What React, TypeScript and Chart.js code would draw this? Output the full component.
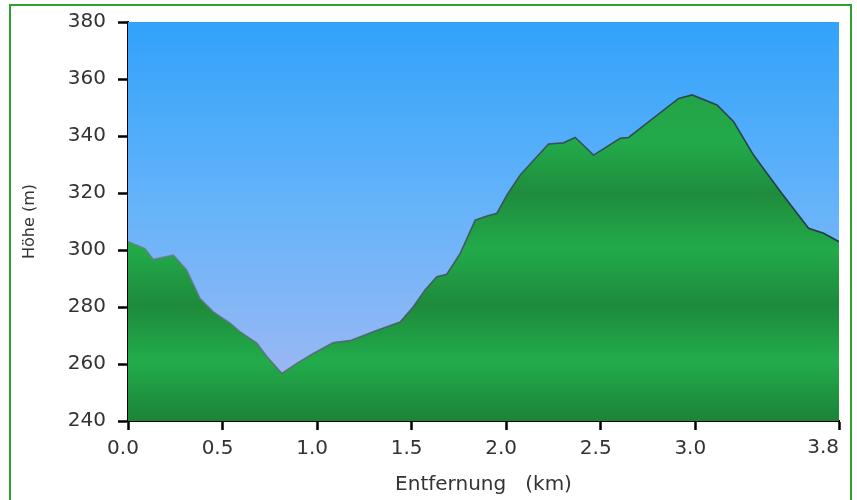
import React, { useEffect, useRef } from "react";
import { Chart, registerables } from "chart.js";

Chart.register(...registerables);

const distanceKm = [0, 0.09, 0.134, 0.24, 0.31, 0.381, 0.451, 0.54, 0.593, 0.681, 0.734, 0.813, 0.893, 0.98, 1.086, 1.175, 1.307, 1.439, 1.503, 1.571, 1.633, 1.686, 1.757, 1.836, 1.898, 1.951, 2.004, 2.074, 2.162, 2.224, 2.303, 2.365, 2.462, 2.603, 2.647, 2.744, 2.912, 2.983, 3.115, 3.203, 3.308, 3.45, 3.599, 3.679, 3.76];
const elevationM = [303, 300.5, 296.7, 298.2, 293, 283, 278.3, 274.3, 271.3, 267.3, 262.6, 256.7, 260.2, 263.7, 267.5, 268.2, 271.6, 274.7, 279.6, 286, 290.6, 291.5, 298.8, 310.5, 311.9, 312.9, 319.3, 326.3, 332.7, 337.2, 337.6, 339.5, 333.3, 339.2, 339.5, 344.5, 353.2, 354.4, 350.9, 345, 333.3, 320.5, 307.6, 305.9, 302.9];
const xTickValues = [0, 0.5, 1.0, 1.5, 2.0, 2.5, 3.0, 3.76];
const yMin = 240;
const yMax = 380;
const yStep = 20;
const xTitle = "Entfernung   (km)";
const yTitle = "Höhe (m)";

const FONT = "'DejaVu Sans', Verdana, sans-serif";
const TICK_COLOR = "#333";

const fmtKm = (v: number) => Number(v).toFixed(1);

export default function App() {
  const ref = useRef<HTMLCanvasElement | null>(null);

  useEffect(() => {
    const canvas = ref.current;
    if (!canvas) return;

    const skyPlugin = {
      id: "sky",
      beforeDatasetsDraw(chart: any) {
        const { ctx, chartArea } = chart;
        const { left, top, right, bottom } = chartArea;
        const g = ctx.createLinearGradient(0, top, 0, bottom);
        g.addColorStop(0, "#31a2fa");
        g.addColorStop(0.45, "#64b3fa");
        g.addColorStop(1, "#a8b9f2");
        ctx.save();
        ctx.fillStyle = g;
        ctx.fillRect(left, top, right - left, bottom - top);
        ctx.restore();
      },
    };

    // last distance label is right-aligned to the end of the axis
    const lastLabelPlugin = {
      id: "lastLabel",
      afterDraw(chart: any) {
        const xs = chart.scales.x;
        const v = xTickValues[xTickValues.length - 1];
        const px = xs.getPixelForValue(v);
        const ctx = chart.ctx;
        ctx.save();
        ctx.font = `20px ${FONT}`;
        ctx.fillStyle = TICK_COLOR;
        ctx.textAlign = "right";
        ctx.textBaseline = "top";
        ctx.fillText(fmtKm(v), px, xs.top + 17);
        ctx.restore();
      },
    };

    const chart = new Chart(canvas, {
      type: "line",
      data: {
        datasets: [
          {
            data: distanceKm.map((d, i) => ({ x: d, y: elevationM[i] })),
            fill: "start",
            tension: 0,
            pointRadius: 0,
            borderWidth: 1.6,
            borderColor: (c: any) => {
              const ca = c.chart.chartArea;
              if (!ca) return "rgba(40,60,70,0.85)";
              const g = c.chart.ctx.createLinearGradient(ca.left, 0, ca.right, 0);
              g.addColorStop(0, "rgba(110,125,135,0.75)");
              g.addColorStop(0.45, "rgba(60,80,90,0.85)");
              g.addColorStop(1, "rgba(30,45,55,0.9)");
              return g;
            },
            backgroundColor: (c: any) => {
              const ca = c.chart.chartArea;
              if (!ca) return "#22aa4a";
              const g = c.chart.ctx.createLinearGradient(0, ca.top, 0, ca.bottom);
              g.addColorStop(0, "rgb(38,152,66)");
              g.addColorStop(0.3, "rgb(34,170,74)");
              g.addColorStop(0.43, "rgb(31,140,61)");
              g.addColorStop(0.57, "rgb(34,170,74)");
              g.addColorStop(0.71, "rgb(30,138,59)");
              g.addColorStop(0.85, "rgb(34,172,76)");
              g.addColorStop(1, "rgb(29,130,55)");
              return g;
            },
          },
        ],
      },
      options: {
        animation: false,
        responsive: false,
        devicePixelRatio: 1,
        layout: { padding: { left: 0, top: 22, right: 18, bottom: 0 } },
        plugins: {
          legend: { display: false },
          tooltip: { enabled: false },
        },
        scales: {
          x: {
            type: "linear",
            min: 0,
            max: 3.76,
            afterBuildTicks: (scale: any) => {
              scale.ticks = xTickValues.map((v) => ({ value: v }));
            },
            afterFit: (scale: any) => {
              scale.height = 79;
              scale.paddingLeft = 0;
              scale.paddingRight = 0;
            },
            ticks: {
              autoSkip: false,
              maxRotation: 0,
              padding: 7,
              labelOffset: -5,
              color: (c: any) =>
                c.index === xTickValues.length - 1 ? "rgba(0,0,0,0)" : TICK_COLOR,
              font: { family: FONT, size: 20 },
              callback: (v: any) => fmtKm(v),
            },
            grid: {
              drawOnChartArea: false,
              tickLength: 9,
              tickColor: "#000",
              tickWidth: 2.5,
            },
            border: { color: "#000", width: 2 },
            title: {
              display: true,
              text: xTitle,
              color: TICK_COLOR,
              font: { family: FONT, size: 20 },
              padding: { top: 0, bottom: 3 },
            },
          },
          y: {
            min: yMin,
            max: yMax,
            z: 1,
            afterFit: (scale: any) => {
              scale.width = 128;
              scale.paddingTop = 0;
              scale.paddingBottom = 0;
            },
            ticks: {
              stepSize: yStep,
              padding: 12,
              color: TICK_COLOR,
              font: { family: FONT, size: 20 },
            },
            grid: {
              color: (c: any) =>
                c.tick && (c.tick.value === yMin || c.tick.value === yMax)
                  ? "rgba(0,0,0,0)"
                  : "rgba(0,0,0,0.2)",
              lineWidth: 1,
              tickLength: 10,
              tickColor: "#000",
              tickWidth: 2.5,
            },
            border: { color: "#000", width: 2 },
            title: {
              display: true,
              text: yTitle,
              color: TICK_COLOR,
              font: { family: FONT, size: 16 },
              padding: { top: 20, bottom: 0 },
            },
          },
        },
      },
      plugins: [skyPlugin, lastLabelPlugin],
    } as any);

    return () => chart.destroy();
  }, []);

  return (
    <div style={{ position: "fixed", left: 0, top: 0, width: 857, height: 500, background: "#fff", overflow: "hidden" }}>
      <div
        style={{
          position: "absolute",
          left: 9,
          top: 4,
          width: 839,
          height: 520,
          border: "2px solid #2ea02e",
        }}
      />
      <canvas ref={ref} width={857} height={500} style={{ position: "absolute", left: 0, top: 0, width: 857, height: 500 }} />
    </div>
  );
}
